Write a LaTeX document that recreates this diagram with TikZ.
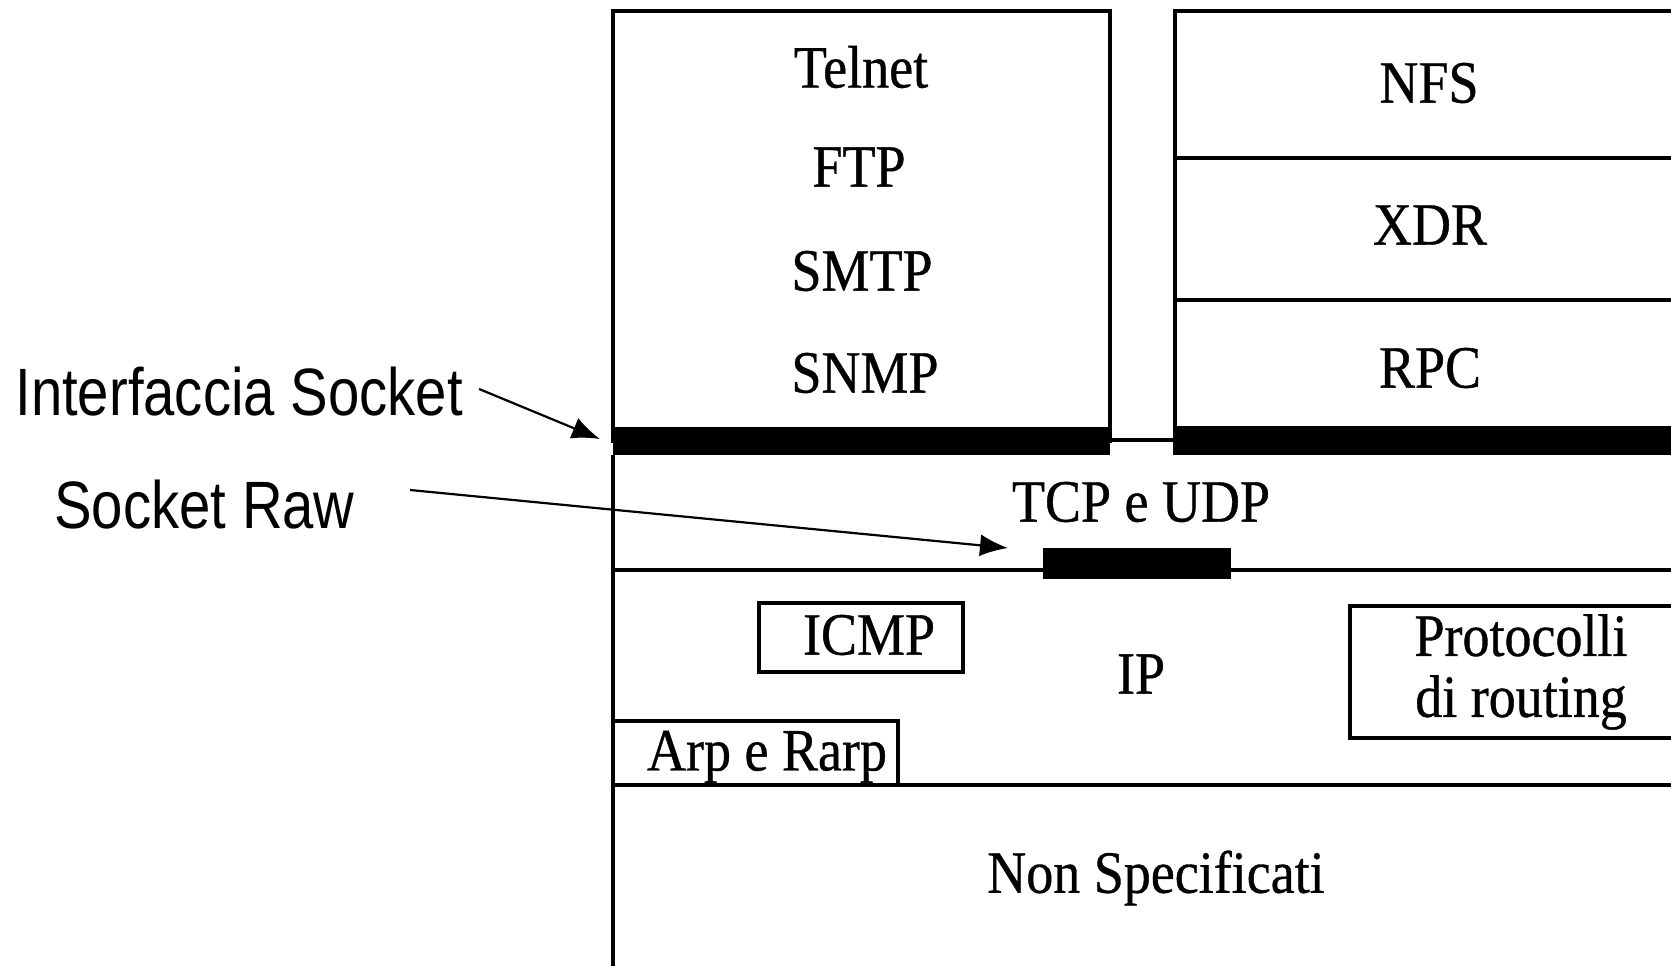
\documentclass[tikz,border=0pt]{standalone}
\usepackage{fontspec}
\setmainfont{Liberation Serif}[FakeStretch=0.9,FakeBold=0.6]
\newfontfamily\labelfont{Liberation Sans}[FakeStretch=0.84]
\usetikzlibrary{arrows.meta}

\begin{document}
\begin{tikzpicture}[x=0.5pt,y=-0.5pt,>={Latex[length=14pt,width=11pt]},
  layer/.style={line width=1.7pt},
  bar/.style={fill=black},
  proto/.style={font=\fontsize{30}{30.5}\selectfont,inner sep=0pt,align=center},
  lbl/.style={font=\labelfont\fontsize{33.5}{38}\selectfont,inner sep=0pt,anchor=west},
  arrow/.style={->,line width=1.1pt}]
\clip (0,0) rectangle (1671,965);
% application boxes
\draw[layer] (613,11) rectangle (1110,441);
\draw[layer] (1175,11) rectangle (1700,441);
\draw[layer] (1175,158) -- (1700,158);
\draw[layer] (1175,300) -- (1700,300);
\draw[layer] (1110,440) -- (1175,440);
\fill[bar] (613,427) rectangle (1110,455);
\fill[bar] (1173,426) rectangle (1700,455);
% transport, IP and lower layers
\draw[layer] (613,455) -- (613,975);
\draw[layer] (613,570) -- (1700,570);
\fill[bar] (1043,548) rectangle (1231,579);
\draw[layer] (613,785) -- (1700,785);
\draw[layer] (759,603) rectangle (963,672);
\draw[layer] (1350,606) rectangle (1700,738);
\draw[layer] (613,721) rectangle (898,785);
% protocol names
\node[proto] (telnet) at (861,67) {Telnet};
\node[proto] (ftp) at (859,167) {FTP};
\node[proto] (smtp) at (862,271) {SMTP};
\node[proto] (snmp) at (865,373) {SNMP};
\node[proto] (nfs) at (1429,83) {NFS};
\node[proto] (xdr) at (1430,225) {XDR};
\node[proto] (rpc) at (1430,368) {RPC};
\node[proto] (tcpudp) at (1141,502) {TCP e UDP};
\node[proto] (icmp) at (869,635) {ICMP};
\node[proto] (ip) at (1141,674) {IP};
\node[proto] (routing) at (1521,672) {Protocolli\\di routing};
\node[proto] (arp) at (767,757) {Arp e Rarp};
\node[proto] (nonspec) at (1156,878) {Non Specificati};
% side labels
\node[lbl] (lblsock) at (15,392) {Interfaccia Socket};
\node[lbl] (lblraw) at (54,505) {Socket Raw};
\coordinate (sockTip) at (600,439);
\coordinate (rawTip) at (1008,548);
\draw[arrow] ([shift={(16,-3)}]lblsock.east) -- (sockTip);
\draw[arrow] ([shift={(55,-15)}]lblraw.east) -- (rawTip);
\end{tikzpicture}
\end{document}
